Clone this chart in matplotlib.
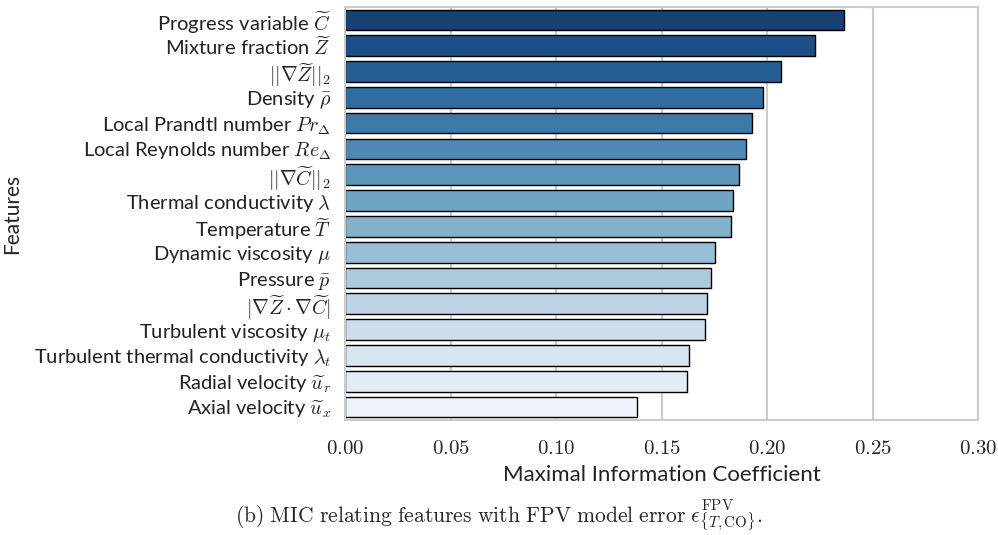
import matplotlib
matplotlib.use("Agg")
import matplotlib.pyplot as plt
import seaborn as sns
import pandas as pd
from matplotlib.ticker import FuncFormatter


features = [
    r"Progress variable $\widetilde{C}$",
    r"Mixture fraction $\widetilde{Z}$",
    r"$||\nabla\widetilde{Z}||_2$",
    r"Density $\bar{\rho}$",
    r"Local Prandtl number $Pr_\Delta$",
    r"Local Reynolds number $Re_\Delta$",
    r"$||\nabla\widetilde{C}||_2$",
    r"Thermal conductivity $\lambda$",
    r"Temperature $\widetilde{T}$",
    r"Dynamic viscosity $\mu$",
    r"Pressure $\bar{p}$",
    r"$|\nabla\widetilde{Z}\cdot\nabla\widetilde{C}|$",
    r"Turbulent viscosity $\mu_t$",
    r"Turbulent thermal conductivity $\lambda_t$",
    r"Radial velocity $\widetilde{u}_r$",
    r"Axial velocity $\widetilde{u}_x$",
]
mic = [0.2363, 0.2226, 0.2065, 0.1980, 0.1930, 0.1899, 0.1866, 0.1840,
       0.1829, 0.1754, 0.1735, 0.1716, 0.1706, 0.1630, 0.1621, 0.1384]

df = pd.DataFrame({"feature": features, "mic": mic})

sns.set_theme(style="whitegrid")
plt.rcParams["font.family"] = ["Lato", "DejaVu Sans"]
plt.rcParams["mathtext.fontset"] = "cm"

fig = plt.figure(figsize=(9.98, 5.35), dpi=100)
ax = fig.add_axes([0.3457, 0.215, 0.6343, 0.772])

sns.barplot(data=df, x="mic", y="feature", hue="feature", palette="Blues_r",
            edgecolor="black", linewidth=1.0, legend=False, ax=ax)

ax.set_xlim(0, 0.30)
ax.set_xticks([0.0, 0.05, 0.10, 0.15, 0.20, 0.25, 0.30])
ax.xaxis.set_major_formatter(FuncFormatter(lambda v, p: r"$%.2f$" % v))
ax.tick_params(axis="x", labelsize=15, pad=7)
ax.tick_params(axis="y", labelsize=14.5, pad=4, labelcolor="#222222")
ax.grid(axis="y", visible=False)
ax.grid(axis="x", color="#cccccc", linewidth=1.5)
for s in ax.spines.values():
    s.set_color("#cccccc")
    s.set_linewidth(1.5)

ax.set_xlabel("Maximal Information Coefficient", fontsize=16, labelpad=5,
              color="#222222")
ax.set_ylabel("Features", fontsize=15, labelpad=8, color="#222222")

fig.text(0.5, 0.025,
         r"$\mathrm{(b)\ MIC\ relating\ features\ with\ FPV\ model\ error}\ "
         r"\epsilon^{\mathrm{FPV}}_{\{T,\mathrm{CO}\}}.$",
         ha="center", fontsize=15.5)

fig.savefig("out.png", dpi=100)
